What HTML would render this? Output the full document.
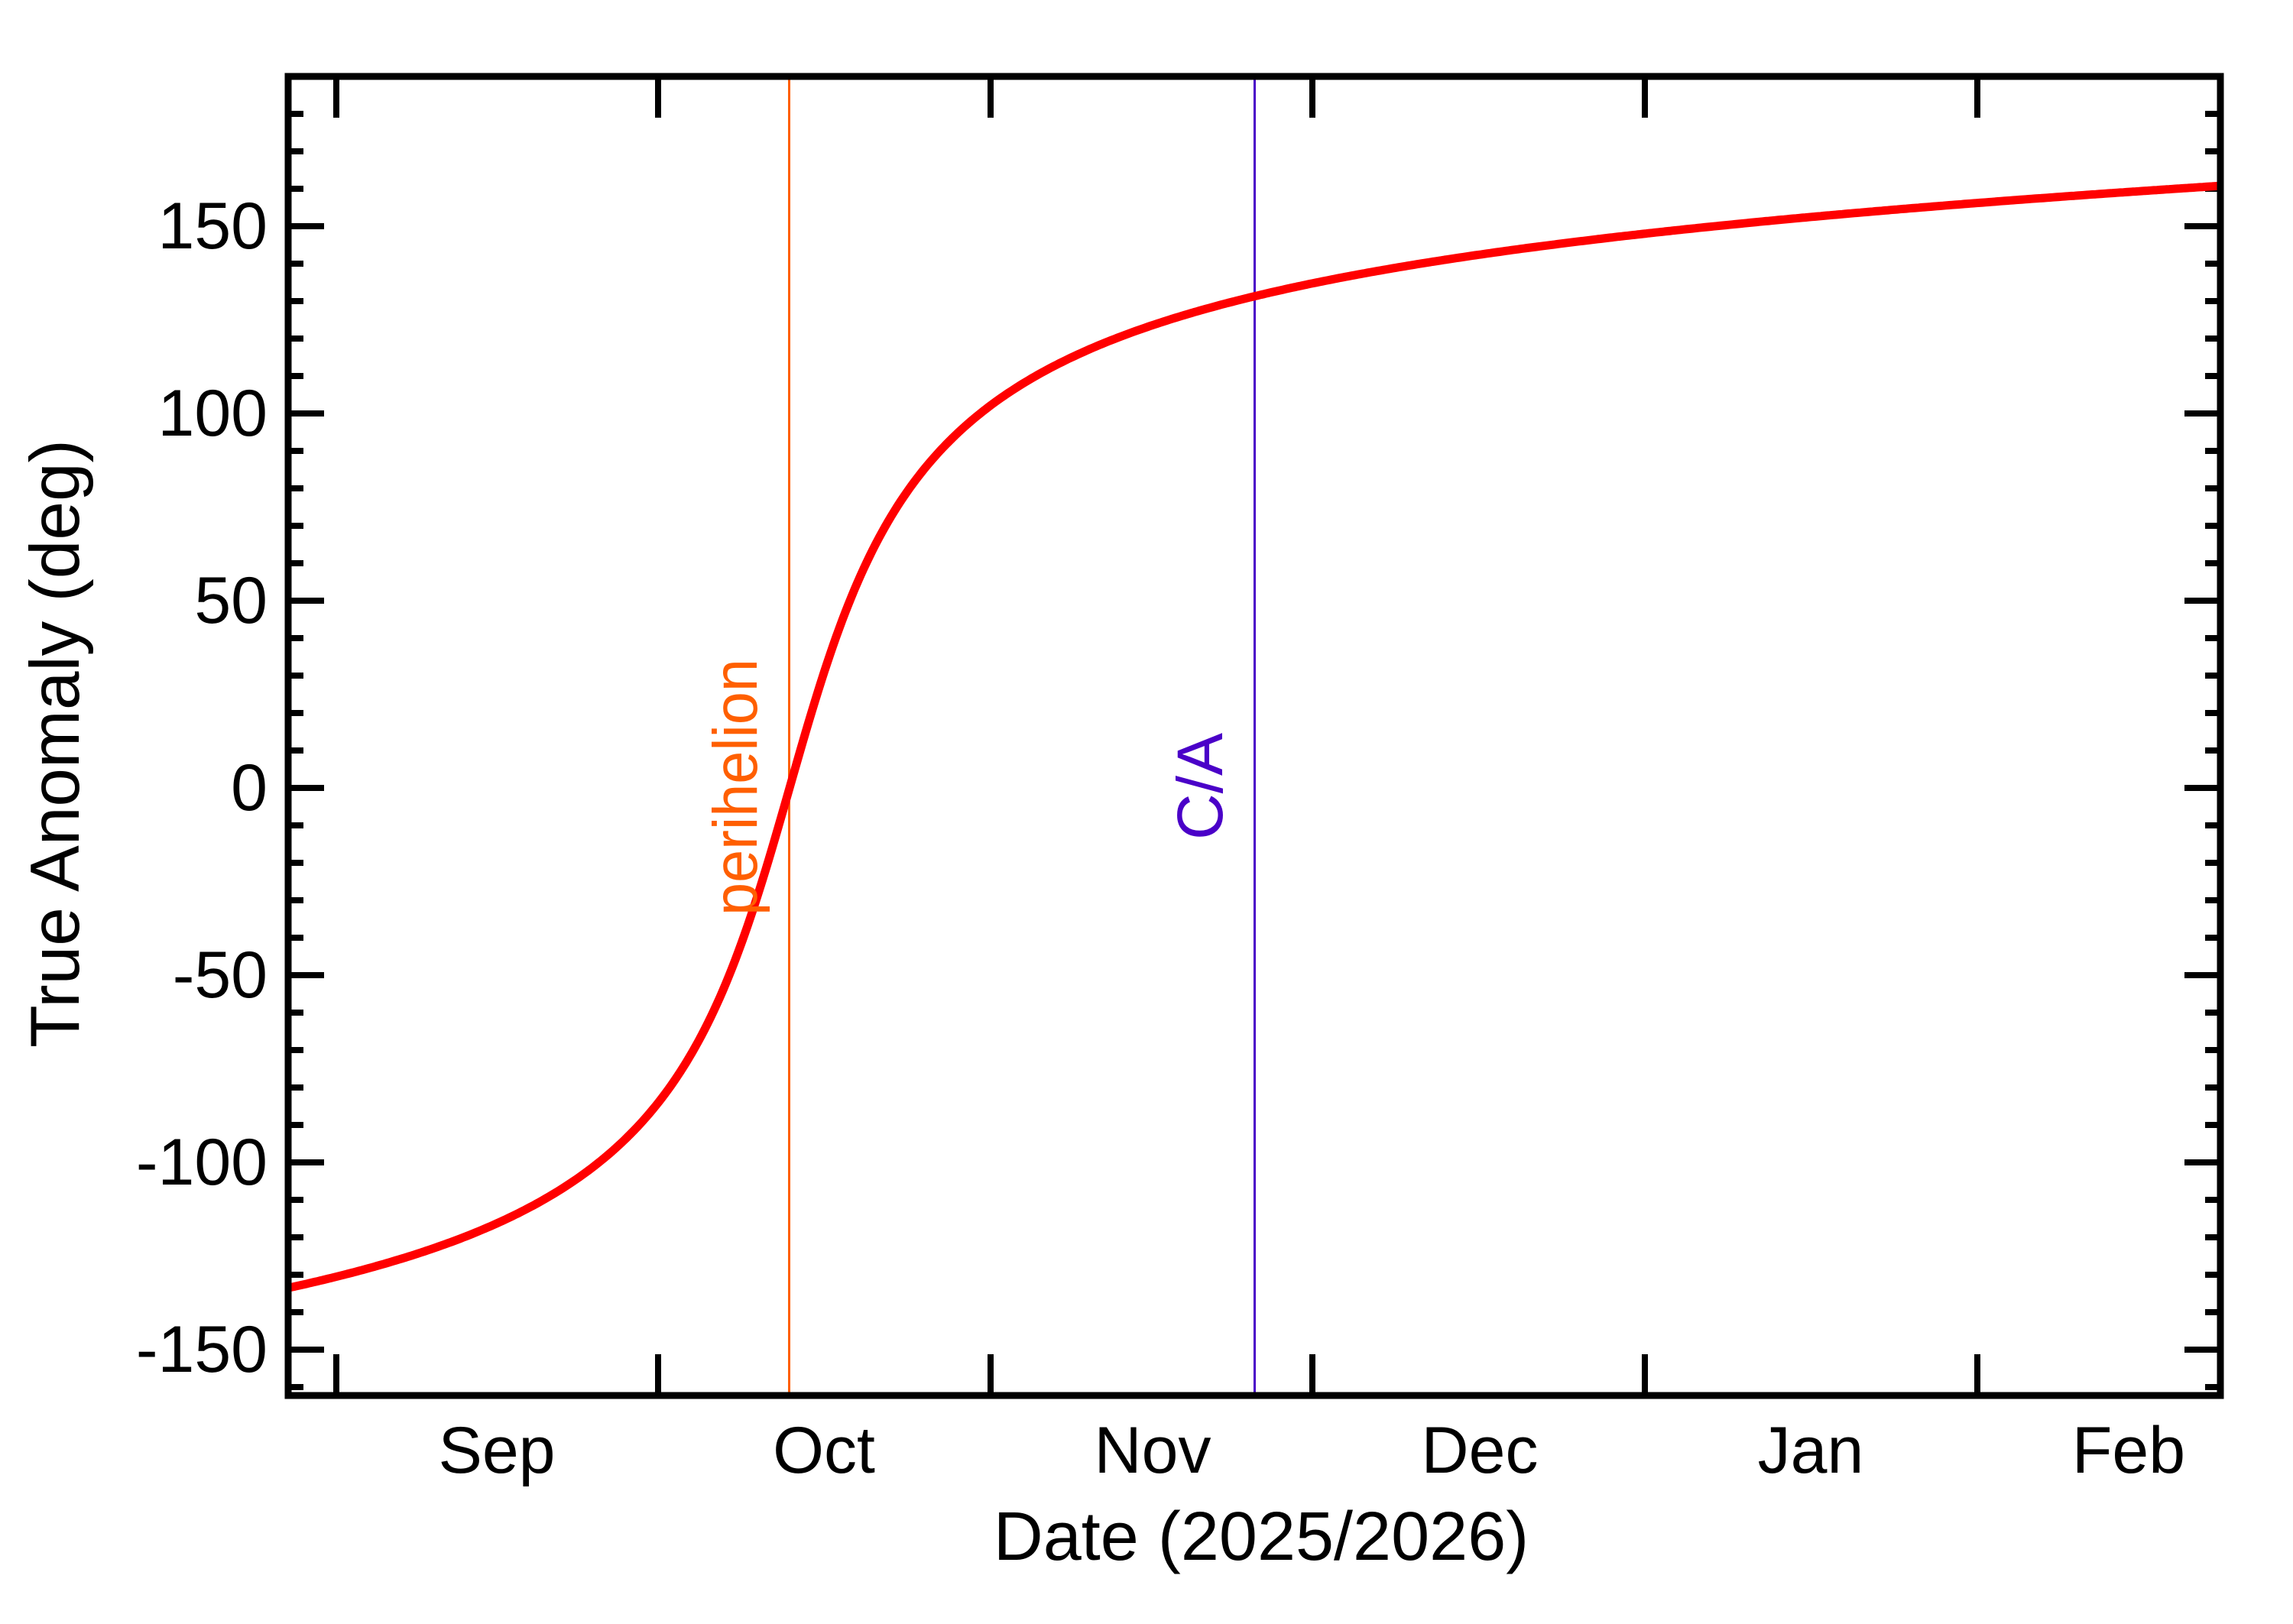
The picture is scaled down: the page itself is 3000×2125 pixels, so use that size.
<!DOCTYPE html>
<html><head><meta charset="utf-8"><style>
html,body{margin:0;padding:0;background:#fff;}
svg{display:block;}
text{font-family:"Liberation Sans",Arial,sans-serif;}
</style></head><body>
<svg id="s" width="3000" height="2125" viewBox="0 0 3000 2125" xmlns="http://www.w3.org/2000/svg">
<defs><clipPath id="cp"><rect x="377" y="100" width="2528" height="1726"/></clipPath></defs>
<rect width="3000" height="2125" fill="#fff"/>
<g id="ticks" stroke="#000" stroke-width="8"></g>
<line x1="1032.5" y1="100" x2="1032.5" y2="1826" stroke="#FF5F00" stroke-width="3"/>
<line x1="1641.5" y1="100" x2="1641.5" y2="1826" stroke="#4A00C8" stroke-width="3"/>
<path id="curve" fill="none" stroke="#FF0000" stroke-width="11" stroke-linejoin="round" clip-path="url(#cp)"/>
<text transform="translate(990,1030) rotate(-90)" font-size="82" fill="#FF5F00" text-anchor="middle" textLength="336" lengthAdjust="spacingAndGlyphs">perihelion</text>
<text transform="translate(1599,1029) rotate(-90)" font-size="84" fill="#4A00C8" text-anchor="middle">C/A</text>
<rect x="377" y="100" width="2528" height="1726" fill="none" stroke="#000" stroke-width="9"/>
<g id="labels" font-size="86" fill="#000"></g>
<text x="1650" y="2041" font-size="90" text-anchor="middle">Date (2025/2026)</text>
<text transform="translate(103,973) rotate(-90)" font-size="91" text-anchor="middle">True Anomaly (deg)</text>
</svg>
<script>
(function(){
var NS="http://www.w3.org/2000/svg";
var tg=document.getElementById("ticks"), lg=document.getElementById("labels");
function ln(x1,y1,x2,y2){var l=document.createElementNS(NS,"line");l.setAttribute("x1",x1);l.setAttribute("y1",y1);l.setAttribute("x2",x2);l.setAttribute("y2",y2);tg.appendChild(l);}
function tx(x,y,s,a){var t=document.createElementNS(NS,"text");t.setAttribute("x",x);t.setAttribute("y",y);t.setAttribute("text-anchor",a);t.textContent=s;lg.appendChild(t);}
function Y(d){return 1031-4.9*d;}
for(var d=-160;d<=190;d+=10){var y=Y(d);if(y<100||y>1826)continue;var maj=(d%50===0);var L=maj?47:20;ln(377,y,377+L,y);ln(2905,y,2905-L,y);
 if(maj)tx(350,y+29,(d<0?"-":"")+Math.abs(d),"end");}
var mt=[440,861,1296,1717,2152,2587];
mt.forEach(function(x){ln(x,100,x,154);ln(x,1826,x,1772);});
var ml=[["Sep",650],["Oct",1078],["Nov",1508],["Dec",1936],["Jan",2369],["Feb",2785]];
ml.forEach(function(m){tx(m[1],1927,m[0],"middle");});
var e=0.8,n=0.000831,x0=1033,f=Math.sqrt((1+e)/(1-e));
var s="";
for(var x=370;x<=2912;x+=4){
 var M=(x-x0)*n,lo=-Math.PI+1e-9,hi=Math.PI-1e-9;
 for(var k=0;k<60;k++){var mid=(lo+hi)/2;if(mid-e*Math.sin(mid)<M)lo=mid;else hi=mid;}
 var E=(lo+hi)/2;
 var nu=2*Math.atan(f*Math.tan(E/2))*180/Math.PI;
 s+=(s?" L":"M")+x+","+Y(nu).toFixed(1);
}
document.getElementById("curve").setAttribute("d",s);
})();
</script>
</body></html>
